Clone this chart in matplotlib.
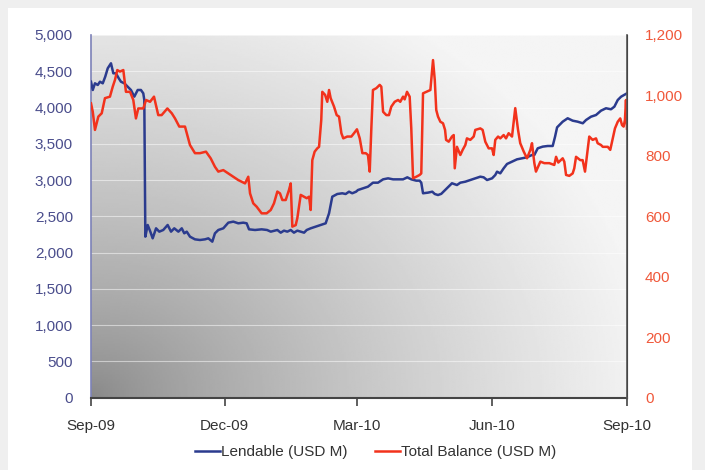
import numpy as np
import pandas as pd
import matplotlib.pyplot as plt
import matplotlib.dates as mdates
from matplotlib.ticker import FuncFormatter, MultipleLocator

plt.rcParams['font.family'] = ['Liberation Sans', 'DejaVu Sans']

start = pd.Timestamp('2009-09-01')

# Lendable (USD M), left axis; x = days since 1 Sep 2009
lend_day = [0.0, 1.2, 2.7, 4.6, 6.1, 8.0, 9.7, 11.4, 13.6, 15.2, 17.0, 18.9, 20.4, 22.7,
            25.0, 27.2, 29.5, 31.8, 34.0, 35.6, 36.3, 37.0, 38.6, 40.4, 42.0, 44.3, 46.5,
            49.2, 52.2, 54.5, 56.7, 59.5, 61.8, 63.5, 65.2, 67.4, 70.8, 74.2, 77.6, 79.9,
            82.6, 84.4, 86.7, 90.1, 93.5, 96.9, 100.3, 103.7, 106.0, 107.6, 111.7, 116.2,
            119.9, 122.4, 126.9, 129.2, 131.4, 133.7, 136.0, 138.2, 140.5, 142.8, 145.1,
            146.9, 149.6, 153.0, 156.4, 159.8, 162.1, 164.3, 167.7, 171.1, 173.4, 175.7,
            177.9, 180.5, 181.8, 185.2, 188.6, 192.0, 195.4, 198.9, 202.3, 205.7, 209.1,
            212.5, 215.4, 218.1, 221.5, 223.8, 224.9, 226.1, 229.5, 232.4, 234.1, 236.3,
            238.5, 242.4, 245.8, 249.2, 251.5, 254.9, 258.3, 261.7, 265.1, 267.4, 269.7,
            273.1, 275.3, 276.5, 278.7, 281.0, 283.3, 286.7, 290.1, 293.5, 296.9, 300.3,
            301.9, 304.2, 307.6, 311.0, 314.4, 316.0, 317.4, 321.2, 324.6, 328.0, 331.4,
            334.9, 337.1, 340.5, 343.9, 347.3, 350.7, 354.1, 356.4, 358.7, 361.0, 364.3, 365.0]
lend_val = [4356, 4242, 4334, 4311, 4356, 4334, 4426, 4541, 4610, 4472, 4472, 4403, 4356, 4334,
            4288, 4242, 4150, 4242, 4242, 4196, 4104, 2220, 2381, 2289, 2197, 2335, 2289,
            2312, 2381, 2289, 2335, 2289, 2335, 2266, 2289, 2220, 2183, 2174, 2183, 2197,
            2151, 2266, 2312, 2335, 2413, 2427, 2404, 2413, 2404, 2321, 2312, 2321,
            2312, 2289, 2312, 2275, 2303, 2289, 2312, 2275, 2303, 2289, 2275,
            2312, 2335, 2358, 2381, 2404, 2542, 2771, 2808, 2818, 2808, 2840,
            2818, 2840, 2863, 2886, 2909, 2964, 2964, 3010, 3024, 3010, 3010,
            3010, 3038, 3010, 2992, 2992, 2964, 2818, 2827, 2840, 2808, 2794,
            2810, 2887, 2956, 2932, 2964, 2978, 3001, 3024, 3047, 3038, 3001,
            3024, 3070, 3116, 3093, 3162, 3222, 3254, 3286, 3300, 3314, 3346,
            3346, 3438, 3461, 3470, 3470, 3598, 3727, 3805, 3852, 3819, 3805,
            3783, 3828, 3874, 3897, 3957, 3990, 3976, 4012, 4104, 4150, 4187, 4196]

# Total Balance (USD M), right axis
bal_day = [0.0, 1.2, 2.7, 5.0, 7.3, 9.5, 12.9, 14.8, 16.3, 17.9, 19.7, 22.0, 23.8, 26.6,
           28.8, 30.6, 32.2, 35.6, 37.5, 40.2, 42.9, 45.8, 48.1, 52.0, 55.0, 57.2, 60.1,
           64.0, 67.4, 70.8, 74.2, 78.3, 81.5, 84.4, 86.7, 90.1, 93.5, 96.9, 100.3, 104.9,
           107.1, 108.3, 110.5, 112.8, 116.2, 119.6, 122.4, 124.6, 126.9, 128.7, 130.3,
           132.6, 134.8, 136.0, 137.1, 139.4, 140.5, 142.8, 145.1, 146.9, 148.5, 149.6,
           150.7, 152.3, 154.1, 155.3, 156.8, 157.5, 159.4, 160.9, 162.1, 163.2, 165.5,
           167.3, 168.9, 170.5, 171.8, 174.5, 177.3, 179.1, 181.1, 183.0, 184.8, 187.1,
           188.6, 189.8, 190.9, 192.0, 194.3, 196.6, 197.7, 198.9, 201.1, 202.9, 204.5,
           206.8, 209.1, 210.6, 212.5, 213.6, 215.2, 217.0, 218.1, 219.3, 221.5, 223.8,
           224.9, 226.1, 228.3, 231.1, 232.9, 234.1, 235.1, 236.3, 237.9, 239.7, 241.1,
           241.8, 243.6, 245.8, 247.0, 247.7, 249.2, 251.5, 253.1, 254.9, 256.0, 258.3,
           260.6, 261.7, 265.1, 266.7, 268.5, 270.8, 273.1, 274.2, 275.3, 277.2, 278.7,
           281.0, 282.6, 284.4, 286.7, 288.9, 290.8, 292.3, 294.7, 296.9, 299.2, 300.3,
           301.9, 303.0, 306.0, 308.7, 312.1, 315.5, 316.7, 318.2, 321.2, 322.3, 323.5,
           325.7, 328.0, 329.1, 330.3, 333.2, 334.8, 336.4, 337.8, 339.3, 341.6, 343.9,
           345.0, 347.3, 348.5, 351.9, 353.6, 355.3, 356.8, 358.7, 360.4, 361.6, 362.7,
           363.6, 364.3, 365.0]
bal_val = [974, 946, 886, 930, 941, 991, 996, 1029, 1051, 1084, 1079, 1084, 1012, 1012,
           985, 924, 957, 957, 985, 979, 996, 935, 935, 957, 941, 924, 897,
           897, 836, 809, 809, 814, 792, 764, 748, 753, 742, 731, 720, 709,
           731, 676, 643, 632, 610, 610, 621, 643, 682, 676, 654,
           654, 687, 709, 566, 571, 594, 671, 665, 660, 665, 621,
           786, 814, 825, 830, 919, 1012, 1002, 979, 1018, 991, 963,
           935, 930, 875, 858, 864, 864, 875, 888, 858, 809, 809,
           803, 748, 891, 1018, 1024, 1035, 1029, 946, 935, 935, 963,
           979, 985, 979, 996, 987, 1012, 996, 891, 726, 731, 737,
           742, 1007, 1012, 1018, 1117, 1051, 952, 930, 913, 908, 886,
           853, 847, 864, 869, 759, 830, 803, 820, 836, 858, 853,
           864, 886, 891, 886, 847, 825, 825, 803, 853, 864, 858,
           869, 858, 875, 864, 958, 886, 842, 814, 792, 820, 842,
           776, 748, 781, 776, 776, 770, 797, 778, 792, 781, 737,
           734, 742, 759, 797, 786, 786, 748, 803, 864, 853, 858,
           842, 836, 830, 830, 820, 858, 891, 913, 924, 902, 897,
           919, 985, 890]

lend_dates = start + pd.to_timedelta(lend_day, unit='D')
bal_dates = start + pd.to_timedelta(bal_day, unit='D')

tick_dates = pd.to_datetime(['2009-09-01', '2009-12-01', '2010-03-01', '2010-06-01', '2010-09-01'])

blue = '#2b3b8e'
red = '#f2321c'

fig = plt.figure(figsize=(7.05, 4.7), dpi=100)
fig.patch.set_facecolor('#efefef')
# white panel inside a thin grey border
fig.patches.append(plt.Rectangle((8 / 705, 0), 684 / 705, 462 / 470, transform=fig.transFigure,
                                 facecolor='white', edgecolor='none', zorder=-10))

ax = fig.add_axes([91 / 705, 1 - 397.7 / 470, 536 / 705, 362.7 / 470])

# shaded plot background, dark at the bottom left
gx, gy = np.meshgrid(np.linspace(0, 1, 300), np.linspace(0, 1, 200))
r = np.clip(np.sqrt((gx * 0.95) ** 2 + (gy * 0.8) ** 2), 0, 1)
shade = 0.53 + 0.43 * r ** 0.75
ax.imshow(shade, cmap='gray', vmin=0, vmax=1, origin='lower', extent=[0, 1, 0, 1],
          transform=ax.transAxes, aspect='auto', zorder=0)

ax.plot(lend_dates, lend_val, color=blue, lw=1.8, zorder=3, label='Lendable (USD M)')
ax.set_ylim(0, 5000)
ax.set_xlim(tick_dates[0], tick_dates[-1])
ax.yaxis.set_major_locator(MultipleLocator(500))
ax.yaxis.set_major_formatter(FuncFormatter(lambda v, p: f'{v:,.0f}'))
ax.grid(axis='y', color='white', alpha=0.5, lw=0.8)
ax.set_axisbelow(True)

ax.set_xticks(tick_dates)
ax.xaxis.set_major_formatter(mdates.DateFormatter('%b-%y'))

ax2 = ax.twinx()
ax2.plot(bal_dates, bal_val, color=red, lw=1.8, label='Total Balance (USD M)')
ax2.set_ylim(0, 1200)
ax2.yaxis.set_major_locator(MultipleLocator(200))
ax2.yaxis.set_major_formatter(FuncFormatter(lambda v, p: f'{v:,.0f}'))

ax.tick_params(axis='y', length=0, pad=13, labelsize=11, labelcolor='#4a4d8c')
ax2.tick_params(axis='y', length=0, pad=13, labelsize=11, labelcolor='#f0583a')
ax.tick_params(axis='x', length=6, width=1.2, color='#444444', pad=9, labelsize=11,
               labelcolor='#333333')

for a in (ax, ax2):
    a.spines['top'].set_visible(False)
ax.spines['left'].set_color('#7d82b8')
ax.spines['left'].set_linewidth(1.2)
ax.spines['bottom'].set_color('#444444')
ax.spines['bottom'].set_linewidth(1.5)
ax2.spines['left'].set_visible(False)
ax2.spines['bottom'].set_visible(False)
ax2.spines['right'].set_color('#555555')
ax2.spines['right'].set_linewidth(1.2)

h1, l1 = ax.get_legend_handles_labels()
h2, l2 = ax2.get_legend_handles_labels()
fig.legend(h1 + h2, l1 + l2, loc='center', bbox_to_anchor=(376 / 705, 1 - 452 / 470),
           ncol=2, frameon=False, fontsize=11, handlelength=1.6, handletextpad=0.1,
           columnspacing=1.8, labelcolor='#333333')

fig.savefig('out.png', dpi=100)
